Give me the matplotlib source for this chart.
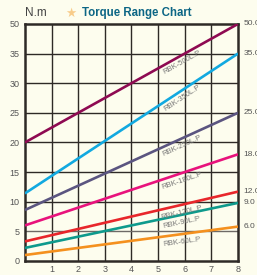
import numpy as np
import matplotlib.pyplot as plt

plt.rcParams['font.family'] = ['Liberation Sans', 'DejaVu Sans']

# data
models = ['RBK-500L.P', 'RBK-350L.P', 'RBK-250L.P', 'RBK-180L.P',
          'RBK-120L.P', 'RBK-90L.P', 'RBK-60L.P']
start_vals = [20, 11.4, 8.6, 6.0, 3.3, 2.2, 1.0]
end_vals = [50, 35, 25, 18, 11.7, 9.8, 5.8]
end_labels = ['50.0', '35.0', '25.0', '18.0', '12.0', '9.0', '6.0']
colors = ['#8e0a52', '#12a9e0', '#5b5580', '#e8127c', '#e8262b', '#0e9a8c', '#f4901e']
x_range = [0, 8]
y_ticks = [0, 5, 10, 15, 20, 25, 30, 35, 50]
x_ticks = [1, 2, 3, 4, 5, 6, 7, 8]

# the y axis is spaced by tick, not linear (35 -> 50 takes one step)
tick_pos = np.arange(len(y_ticks))


def fwd(v):
    return np.interp(v, y_ticks, tick_pos)


def inv(p):
    return np.interp(p, tick_pos, y_ticks)


bg = '#fdfdee'
fig = plt.figure(figsize=(2.57, 2.75), dpi=100, facecolor=bg)
ax = fig.add_axes([0.097, 0.051, 0.829, 0.862])
ax.set_facecolor(bg)
ax.set_yscale('function', functions=(fwd, inv))
ax.set_xlim(0, 8)
ax.set_ylim(0, 50)

grid_c = '#2e2a26'
for xv in x_ticks[:-1]:
    ax.axvline(xv, color=grid_c, lw=1.0, zorder=1)
for yv in y_ticks[1:-1]:
    ax.axhline(yv, color='#6e6a66' if yv == 5 else grid_c, lw=1.0, zorder=1)

for name, s, e, c in zip(models, start_vals, end_vals, colors):
    ax.plot(x_range, [s, e], color=c, lw=1.9, zorder=3, solid_capstyle='butt')

fig.canvas.draw()
for name, s, e, lab in zip(models, start_vals, end_vals, end_labels):
    p0 = ax.transData.transform((0, s))
    p1 = ax.transData.transform((8, e))
    ang = np.degrees(np.arctan2(p1[1] - p0[1], p1[0] - p0[0]))
    xl = 5.9
    yl_disp = p0[1] + (p1[1] - p0[1]) * xl / 8
    yl = ax.transData.inverted().transform((0, yl_disp))[1]
    ax.annotate(name, (xl, yl), xytext=(0, -5.5), textcoords='offset points',
                rotation=ang, rotation_mode='anchor', ha='center', va='center',
                fontsize=5.5, color='#777777', zorder=4)
    ax.annotate(lab, (8, e), xytext=(4, 0), textcoords='offset points',
                ha='left', va='center', fontsize=6, color='#555555',
                annotation_clip=False)

ax.set_xticks(x_ticks)
ax.set_yticks(y_ticks)
ax.set_yticklabels([str(v) for v in y_ticks])
ax.tick_params(length=0, labelsize=6.5, colors='#555555', pad=3)
ax.tick_params(axis='y', pad=4)
ax.minorticks_off()
for sp in ax.spines.values():
    sp.set_color('#2e2a26')
    sp.set_linewidth(1.8)

fig.text(0.098, 0.952, 'N.m', fontsize=8.5, color='#444444', va='center')
fig.text(0.255, 0.952, '\u2605', fontsize=9, color='#f8cc8a', va='center',
         family=['DejaVu Sans'])
fig.text(0.318, 0.952, 'Torque Range Chart', fontsize=8.3, fontweight='bold',
         color='#0d6685', va='center')

fig.savefig('out.png', dpi=100, facecolor=bg)
